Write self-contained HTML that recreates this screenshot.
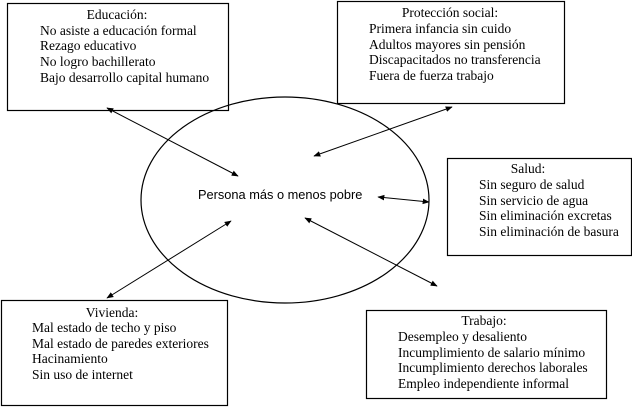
<!DOCTYPE html>
<html><head><meta charset="utf-8"><style>
html,body{margin:0;padding:0;background:#fff;}
body{width:632px;height:407px;overflow:hidden;}
</style></head><body>
<svg width="632" height="407" viewBox="0 0 632 407" xmlns="http://www.w3.org/2000/svg">
<defs>
<marker id="a" viewBox="0 0 10 10" refX="9" refY="5" markerWidth="7" markerHeight="7" orient="auto-start-reverse">
<path d="M0,1 L10,5 L0,9 z" fill="#000"/></marker>
</defs>
<g fill="none" stroke="#000" stroke-width="1.2">
<rect x="7.5" y="3.5" width="221" height="107"/>
<rect x="337.5" y="1.5" width="227" height="102"/>
<rect x="447.5" y="158.5" width="184" height="97"/>
<rect x="1.5" y="300.5" width="226" height="105"/>
<rect x="366.5" y="310.5" width="240" height="88"/>
<ellipse cx="285" cy="200" rx="144" ry="103"/>
</g>
<g stroke="#000" stroke-width="1" marker-start="url(#a)" marker-end="url(#a)">
<line x1="107" y1="108" x2="238" y2="176"/>
<line x1="452" y1="107" x2="314" y2="156"/>
<line x1="378" y1="197" x2="429" y2="202"/>
<line x1="231" y1="221" x2="107" y2="298"/>
<line x1="305" y1="218" x2="437" y2="286"/>
</g>
<g font-family="'Liberation Serif',serif" font-size="13.5" fill="#000">
<text x="117" y="19" text-anchor="middle">Educación:</text>
<text x="40" y="35">No asiste a educación formal</text>
<text x="40" y="50">Rezago educativo</text>
<text x="40" y="66">No logro bachillerato</text>
<text x="40" y="82">Bajo desarrollo capital humano</text>
<text x="450" y="17" text-anchor="middle">Protección social:</text>
<text x="369" y="33">Primera infancia sin cuido</text>
<text x="369" y="49">Adultos mayores sin pensión</text>
<text x="369" y="64">Discapacitados no transferencia</text>
<text x="369" y="80">Fuera de fuerza trabajo</text>
<text x="528" y="173" text-anchor="middle">Salud:</text>
<text x="479" y="189">Sin seguro de salud</text>
<text x="479" y="205">Sin servicio de agua</text>
<text x="479" y="220">Sin eliminación excretas</text>
<text x="479" y="236">Sin eliminación de basura</text>
<text x="112" y="317" text-anchor="middle">Vivienda:</text>
<text x="32" y="332">Mal estado de techo y piso</text>
<text x="32" y="348">Mal estado de paredes exteriores</text>
<text x="32" y="363">Hacinamiento</text>
<text x="32" y="379">Sin uso de internet</text>
<text x="484" y="325" text-anchor="middle">Trabajo:</text>
<text x="398" y="341">Desempleo y desaliento</text>
<text x="398" y="357">Incumplimiento de salario mínimo</text>
<text x="398" y="372">Incumplimiento derechos laborales</text>
<text x="398" y="388">Empleo independiente informal</text>
</g>
<text x="198" y="199" font-family="'Liberation Sans',sans-serif" font-size="12.8" fill="#000">Persona más o menos pobre</text>
</svg>
</body></html>
